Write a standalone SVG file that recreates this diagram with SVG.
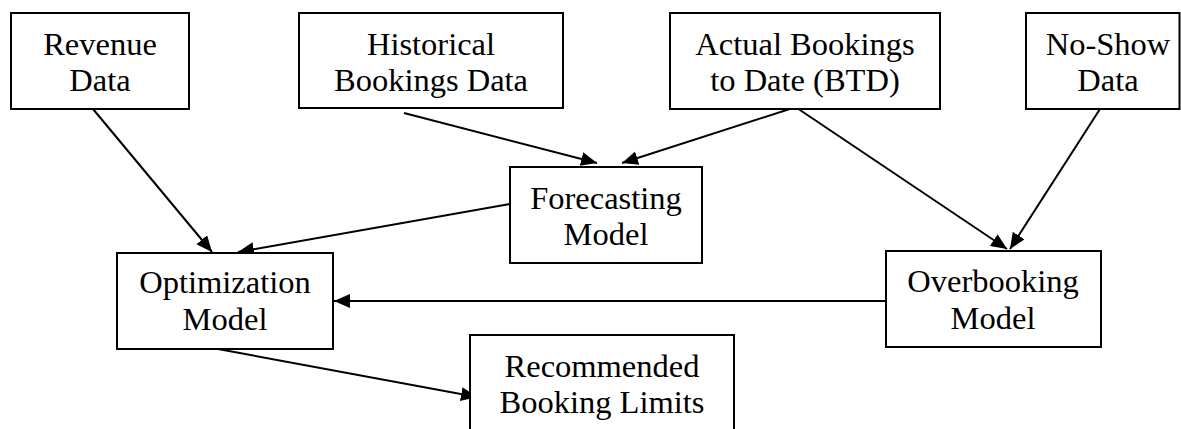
<svg xmlns="http://www.w3.org/2000/svg" width="1181" height="429" viewBox="0 0 1181 429">
  <style>
    .box { fill: #ffffff; stroke: #000000; stroke-width: 2; }
    .lbl { font-family: "Liberation Serif", "Times New Roman", serif; font-size: 32.5px; fill: #000000; text-anchor: middle; }
    .edge { fill: none; stroke: #000000; stroke-width: 2; marker-end: url(#arrow); }
  </style>
  <defs>
    <marker id="arrow" markerUnits="userSpaceOnUse" markerWidth="18" markerHeight="16" refX="16" refY="7" orient="auto">
      <path d="M0,0 L16,7 L0,14 z" fill="#000000"/>
    </marker>
  </defs>
  <rect width="1181" height="429" fill="#ffffff"/>

  <g id="connectors">
    <line class="edge" x1="93" y1="109" x2="212" y2="252"/>
    <line class="edge" x1="404" y1="113" x2="597" y2="163"/>
    <line class="edge" x1="796" y1="107" x2="622" y2="163"/>
    <line class="edge" x1="794" y1="106" x2="1007" y2="249"/>
    <line class="edge" x1="1100" y1="109" x2="1010" y2="249"/>
    <line class="edge" x1="510" y1="204" x2="238" y2="252"/>
    <line class="edge" x1="886" y1="301" x2="334" y2="301"/>
    <line class="edge" x1="218" y1="349" x2="477" y2="397"/>
  </g>

  <g id="revenue-data">
    <rect class="box" x="11" y="13" width="178" height="96"/>
    <text class="lbl" x="100" y="55">Revenue</text>
    <text class="lbl" x="100" y="91">Data</text>
  </g>
  <g id="historical-bookings">
    <rect class="box" x="299" y="13" width="264" height="95"/>
    <text class="lbl" x="431" y="55">Historical</text>
    <text class="lbl" x="431" y="91">Bookings Data</text>
  </g>
  <g id="actual-bookings">
    <rect class="box" x="670" y="13" width="270" height="96"/>
    <text class="lbl" x="805" y="55">Actual Bookings</text>
    <text class="lbl" x="805" y="91">to Date (BTD)</text>
  </g>
  <g id="no-show-data">
    <rect class="box" x="1026" y="13" width="153.5" height="96"/>
    <text class="lbl" x="1108" y="55">No-Show</text>
    <text class="lbl" x="1108" y="91">Data</text>
  </g>
  <g id="forecasting-model">
    <rect class="box" x="510" y="167" width="192" height="96"/>
    <text class="lbl" x="606" y="209">Forecasting</text>
    <text class="lbl" x="606" y="245">Model</text>
  </g>
  <g id="optimization-model">
    <rect class="box" x="117" y="253" width="216" height="96"/>
    <text class="lbl" x="225" y="293">Optimization</text>
    <text class="lbl" x="225" y="330">Model</text>
  </g>
  <g id="overbooking-model">
    <rect class="box" x="886" y="251" width="215" height="96"/>
    <text class="lbl" x="993" y="292">Overbooking</text>
    <text class="lbl" x="993" y="329">Model</text>
  </g>
  <g id="recommended-limits">
    <rect class="box" x="470" y="335" width="264" height="100"/>
    <text class="lbl" x="602" y="377">Recommended</text>
    <text class="lbl" x="602" y="413">Booking Limits</text>
  </g>
</svg>
